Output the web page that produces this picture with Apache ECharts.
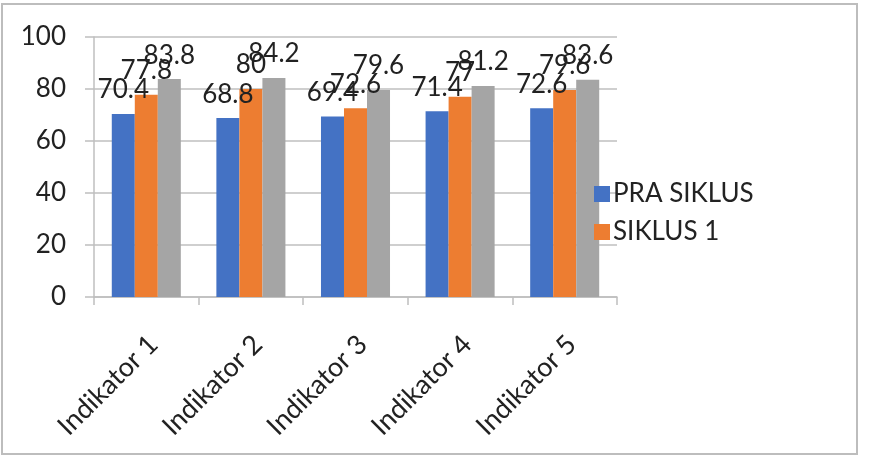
<!DOCTYPE html>
<html>
<head>
<meta charset="utf-8">
<script src="https://cdn.jsdelivr.net/npm/echarts@6/dist/echarts.min.js"></script>
<style>
html,body{margin:0;padding:0;background:#fff;}
#main{width:869px;height:457px;}
</style>
</head>
<body>
<div id="main"></div>
<script>
// data
var categories = ['Indikator 1', 'Indikator 2', 'Indikator 3', 'Indikator 4', 'Indikator 5'];
var praSiklus = [70.4, 68.8, 69.4, 71.4, 72.6];
var siklus1 = [77.8, 80, 72.6, 77, 79.6];
var siklus2 = [83.8, 84.2, 79.6, 81.2, 83.6];
var yTicks = [0, 20, 40, 60, 80, 100];

var font = 'Lato, "Open Sans", sans-serif';
var txt = '#222';
var lineCol = '#bfbfbf';

function barSeries(name, data, color){
	return {
		name: name,
		type: 'bar',
		data: data,
		barGap: '0%',
		barCategoryGap: '34%',
		itemStyle: {color: color},
		label: {
			show: true,
			position: 'top',
			distance: 11,
			color: txt,
			fontFamily: font,
			fontSize: 26
		}
	};
}

var myChart = echarts.init(document.getElementById('main'));
var option = {
	animation: false,
	graphic: [{
		type: 'rect',
		shape: {x: 2, y: 4, width: 855, height: 450},
		style: {fill: 'none', stroke: '#bdbdbd', lineWidth: 2},
		silent: true
	}],
	grid: {left: 94, right: 252, top: 37, bottom: 160, containLabel: false},
	legend: {
		data: ['PRA SIKLUS', 'SIKLUS 1'],
		orient: 'vertical',
		left: 589,
		top: 176,
		itemWidth: 16,
		itemHeight: 16,
		itemGap: 12,
		icon: 'rect',
		textStyle: {color: txt, fontFamily: font, fontSize: 26, padding: [0, 0, 0, -2]}
	},
	xAxis: {
		type: 'category',
		data: categories,
		axisLine: {show: true, lineStyle: {color: lineCol, width: 1.5}},
		axisTick: {show: true, length: 8, lineStyle: {color: lineCol, width: 1.5}},
		axisLabel: {
			rotate: 45, margin: 50, interval: 0,
			padding: [0, -10, 0, 0],
			color: txt, fontFamily: font, fontSize: 27
		}
	},
	yAxis: {
		type: 'value',
		min: yTicks[0],
		max: yTicks[yTicks.length - 1],
		interval: 20,
		axisLine: {show: true, lineStyle: {color: lineCol, width: 1.5}},
		axisTick: {show: true, length: 9, lineStyle: {color: lineCol, width: 1.5}},
		splitLine: {show: true, lineStyle: {color: lineCol, width: 1.5}},
		axisLabel: {margin: 28, color: txt, fontFamily: font, fontSize: 26}
	},
	series: [
		barSeries('PRA SIKLUS', praSiklus, '#4472C4'),
		barSeries('SIKLUS 1', siklus1, '#ED7D31'),
		barSeries('SIKLUS 2', siklus2, '#A5A5A5')
	]
};
myChart.setOption(option);
</script>
</body>
</html>
